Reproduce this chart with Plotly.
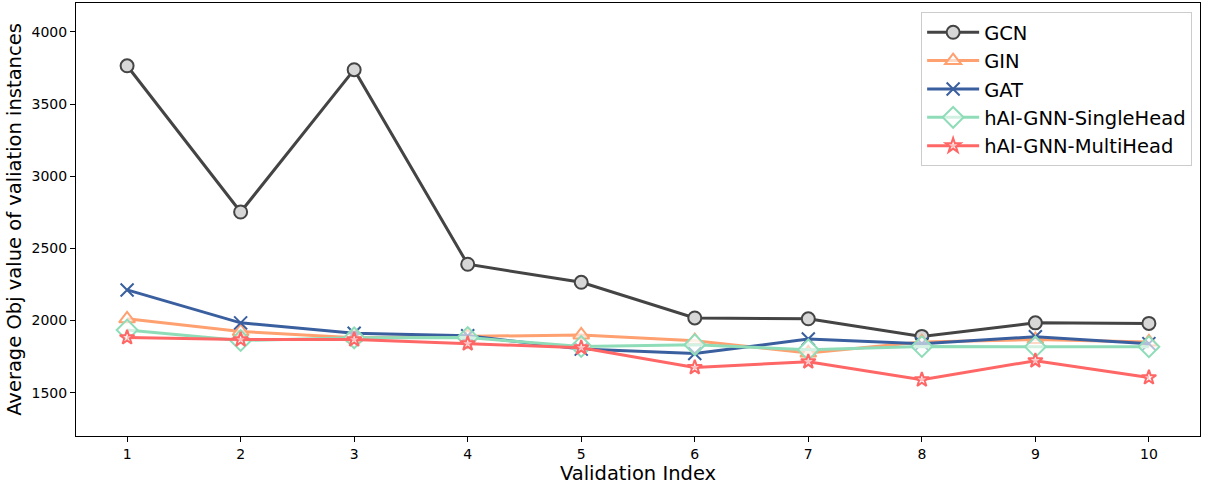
import plotly.graph_objects as go

x_idx = [1, 2, 3, 4, 5, 6, 7, 8, 9, 10]
gcn = [3765, 2752, 3738, 2390, 2265, 2018, 2012, 1890, 1984, 1980]
gin = [2012, 1924, 1880, 1888, 1900, 1860, 1775, 1852, 1868, 1852]
gat = [2212, 1984, 1912, 1894, 1802, 1772, 1872, 1840, 1888, 1840]
single = [1934, 1862, 1880, 1882, 1820, 1832, 1798, 1820, 1818, 1818]
multi = [1882, 1868, 1868, 1840, 1812, 1675, 1715, 1590, 1722, 1605]

series = [
    ("GCN", gcn, "#444444", "circle", "rgba(215,215,215,1)", 13),
    ("GIN", gin, "#FFA070", "triangle-up", "rgba(255,255,255,0.6)", 14),
    ("GAT", gat, "#3A5F9F", "x-thin", None, 13),
    ("hAI-GNN-SingleHead", single, "#8FDDB8", "diamond", "rgba(255,255,255,0.6)", 16),
    ("hAI-GNN-MultiHead", multi, "#FF6666", "star", "rgba(255,255,255,0.6)", 11),
]

fig = go.Figure()
for name, vals, col, sym, face, size in series:
    if sym == "x-thin":
        marker = dict(symbol="x-thin-open", size=size, color=col, line=dict(color=col, width=2))
    else:
        marker = dict(symbol=sym, size=size, color=face, line=dict(color=col, width=2))
    fig.add_trace(go.Scatter(
        x=x_idx, y=vals, name=name, mode="lines+markers",
        line=dict(color=col, width=3), marker=marker,
    ))

fig.update_layout(
    width=1217, height=486,
    margin=dict(l=76, r=17, t=3, b=50),
    paper_bgcolor="white", plot_bgcolor="white",
    font=dict(family="DejaVu Sans", size=14, color="black"),
    showlegend=True,
    legend=dict(
        x=0.993, y=0.979, xanchor="right", yanchor="top",
        bgcolor="rgba(255,255,255,0.8)", bordercolor="#cccccc", borderwidth=1,
        font=dict(size=19.5, family="DejaVu Sans"),
        itemwidth=52,
    ),
    xaxis=dict(
        range=[0.55, 10.45], tickmode="array", tickvals=x_idx,
        ticks="outside", ticklen=5, tickcolor="black",
        showline=True, linecolor="black", linewidth=1, mirror=True,
        showgrid=False, zeroline=False,
        title=dict(text="Validation Index", font=dict(size=19.5), standoff=1),
    ),
    yaxis=dict(
        range=[1200, 4200], tickvals=[1500, 2000, 2500, 3000, 3500, 4000],
        ticks="outside", ticklen=5, tickcolor="black",
        showline=True, linecolor="black", linewidth=1, mirror=True,
        showgrid=False, zeroline=False,
        title=dict(text="Average Obj value of valiation instances", font=dict(size=19.5), standoff=4),
    ),
)

fig.write_html("out.html", config={"displayModeBar": False},
               post_script="document.body.style.margin='0';document.body.style.padding='0';")
